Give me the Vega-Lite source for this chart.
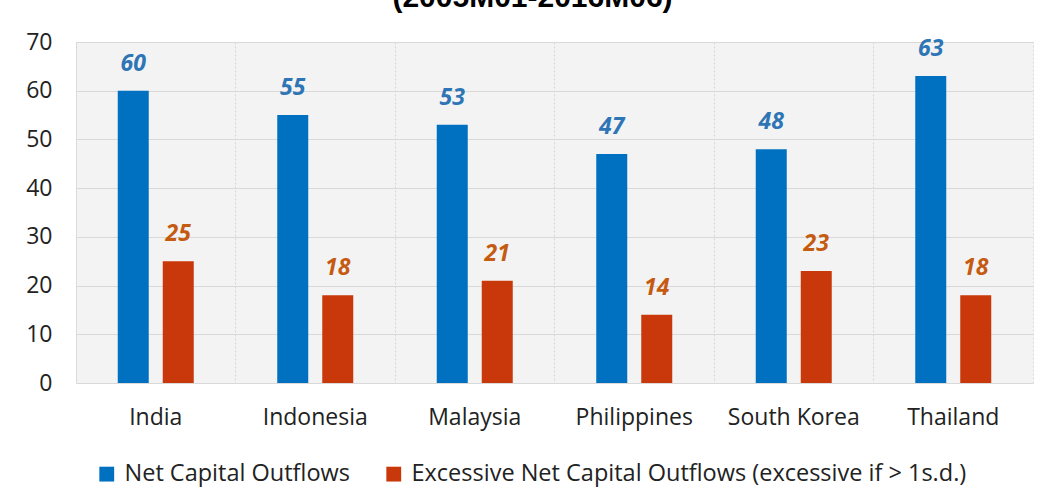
{
  "$schema": "https://vega.github.io/schema/vega-lite/v6.json",
  "autosize": {"type": "none"},
  "width": 957,
  "height": 341,
  "padding": {"left": 76, "top": 42, "right": 8, "bottom": 115},
  "background": "white",
  "title": {
    "text": "(2005M01-2016M06)",
    "font": "Liberation Sans",
    "fontSize": 30,
    "fontWeight": "bold",
    "color": "#000000",
    "anchor": "middle",
    "offset": 18,
    "dx": -22
  },
  "config": {
    "view": {"fill": "#f3f3f3", "stroke": "#d9d9d9", "strokeDash": [2, 2]},
    "font": "Open Sans"
  },
  "data": {
    "values": [
      {"country": "India", "series": "Net Capital Outflows", "value": 60},
      {"country": "India", "series": "Excessive Net Capital Outflows (excessive if > 1s.d.)", "value": 25},
      {"country": "Indonesia", "series": "Net Capital Outflows", "value": 55},
      {"country": "Indonesia", "series": "Excessive Net Capital Outflows (excessive if > 1s.d.)", "value": 18},
      {"country": "Malaysia", "series": "Net Capital Outflows", "value": 53},
      {"country": "Malaysia", "series": "Excessive Net Capital Outflows (excessive if > 1s.d.)", "value": 21},
      {"country": "Philippines", "series": "Net Capital Outflows", "value": 47},
      {"country": "Philippines", "series": "Excessive Net Capital Outflows (excessive if > 1s.d.)", "value": 14},
      {"country": "South Korea", "series": "Net Capital Outflows", "value": 48},
      {"country": "South Korea", "series": "Excessive Net Capital Outflows (excessive if > 1s.d.)", "value": 23},
      {"country": "Thailand", "series": "Net Capital Outflows", "value": 63},
      {"country": "Thailand", "series": "Excessive Net Capital Outflows (excessive if > 1s.d.)", "value": 18}
    ]
  },
  "encoding": {
    "x": {
      "field": "country",
      "type": "nominal",
      "sort": ["India", "Indonesia", "Malaysia", "Philippines", "South Korea", "Thailand"],
      "scale": {"paddingInner": 0, "paddingOuter": 0},
      "axis": {
        "title": null,
        "labelAngle": 0,
        "labelFontSize": 23,
        "labelColor": "#222222",
        "labelPadding": 23,
        "domain": false,
        "ticks": false,
        "grid": true,
        "bandPosition": 0,
        "gridColor": "#d4d4d4",
        "gridDash": [2, 2]
      }
    },
    "xOffset": {
      "field": "series",
      "type": "nominal",
      "sort": ["Net Capital Outflows", "Excessive Net Capital Outflows (excessive if > 1s.d.)"],
      "scale": {"paddingInner": 0.311, "paddingOuter": 0.928}
    },
    "y": {
      "field": "value",
      "type": "quantitative",
      "scale": {"domain": [0, 70]},
      "axis": {
        "title": null,
        "values": [0, 10, 20, 30, 40, 50, 60, 70],
        "labelFontSize": 23,
        "labelColor": "#222222",
        "labelPadding": 24,
        "domain": false,
        "ticks": false,
        "gridColor": "#d9d9d9"
      }
    }
  },
  "layer": [
    {
      "mark": {"type": "bar"},
      "encoding": {
        "color": {
          "field": "series",
          "type": "nominal",
          "sort": ["Net Capital Outflows", "Excessive Net Capital Outflows (excessive if > 1s.d.)"],
          "scale": {"range": ["#0070C0", "#C9380A"]},
          "legend": {
            "title": null,
            "orient": "none",
            "legendX": 19,
            "legendY": 420,
            "direction": "horizontal",
            "symbolType": "square",
            "symbolSize": 220,
            "symbolStrokeWidth": 0,
            "symbolOffset": 0,
            "labelOffset": 6,
            "labelFontSize": 23.5,
            "labelLimit": 0,
            "labelColor": "#222222",
            "columnPadding": 32
          }
        }
      }
    },
    {
      "mark": {"type": "text", "dy": -27, "fontSize": 23, "fontStyle": "italic", "fontWeight": "bold", "font": "Open Sans"},
      "encoding": {
        "text": {"field": "value", "type": "quantitative"},
        "color": {
          "field": "series",
          "type": "nominal",
          "sort": ["Net Capital Outflows", "Excessive Net Capital Outflows (excessive if > 1s.d.)"],
          "scale": {"range": ["#2E75B6", "#C55A11"]},
          "legend": null
        }
      }
    }
  ],
  "resolve": {"scale": {"color": "independent"}}
}
